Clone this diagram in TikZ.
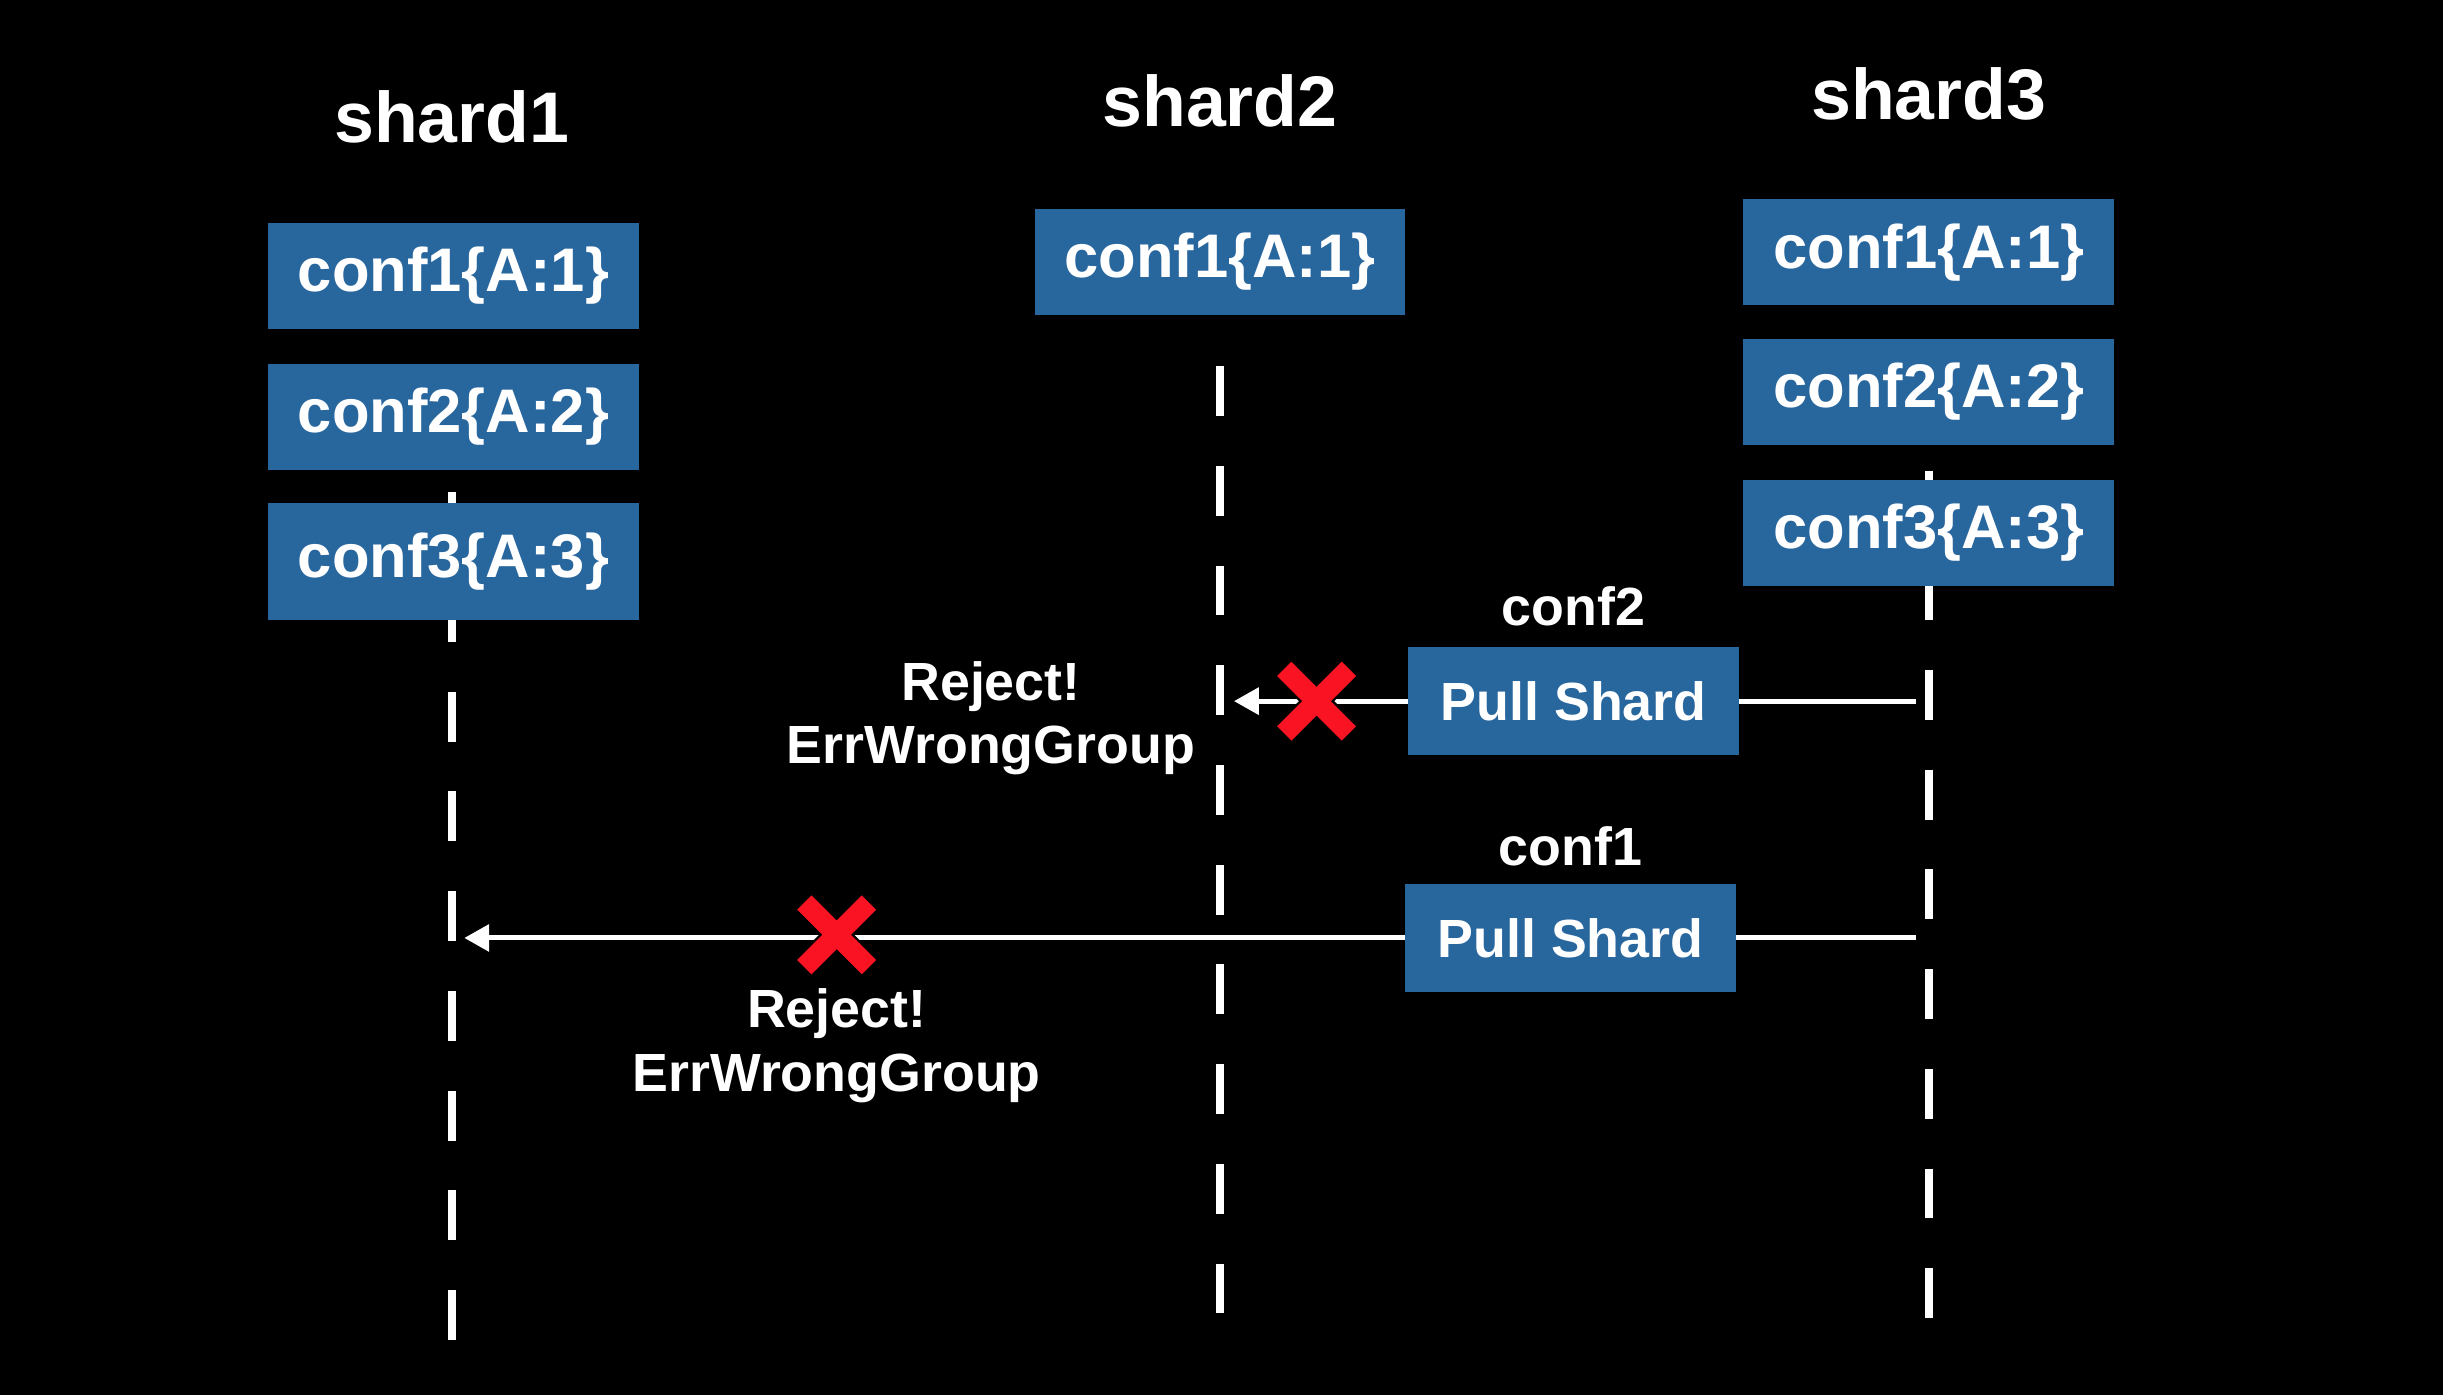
\documentclass[tikz,border=0pt]{standalone}
\usepackage{fontspec}
\setmainfont{Liberation Sans}
\usepackage{tikz}
\usetikzlibrary{arrows.meta}
\usetikzlibrary{positioning}
\usetikzlibrary{shapes}
\usepackage{xcolor}

\definecolor{confblue}{RGB}{40,102,158}
\definecolor{crossred}{RGB}{250,20,35}

\tikzset{
	shardname/.style={text=white, font=\bfseries\fontsize{46}{52}\selectfont},
	conf/.style={fill=confblue, text=white, font=\bfseries\fontsize{39.5}{44}\selectfont,
		minimum width=238pt, minimum height=68pt, inner sep=0pt},
	pull/.style={fill=confblue, text=white, font=\bfseries\fontsize{34.5}{40}\selectfont,
		minimum width=212pt, minimum height=69pt, inner sep=0pt},
	confname/.style={text=white, font=\bfseries\fontsize{34.5}{40}\selectfont, inner sep=0pt},
	errtext/.style={text=white, font=\bfseries\fontsize{34.5}{41}\selectfont, align=center, inner sep=0pt},
	lifeline/.style={white, line width=5pt, dash pattern=on 32pt off 32pt},
	msg/.style={white, line width=3.2pt},
	reject/.style={cross out, draw=black, line width=1.5pt, double=crossred, double distance=13pt,
		minimum size=40pt, inner sep=0pt}
}

\begin{document}
\begin{tikzpicture}[x=1pt, y=-1pt]
	\useasboundingbox (0,0) rectangle (1568,895);
	\fill[black] (-10,-10) rectangle (1578,905);

	% lifelines
	\coordinate (s1top) at (290,316);
	\coordinate (s1bot) at (290,860);
	\coordinate (s2top) at (783,235);
	\coordinate (s2bot) at (783,843);
	\coordinate (s3top) at (1238,302);
	\coordinate (s3bot) at (1238,846);
	\draw[lifeline] (s1top) -- (s1bot);
	\draw[lifeline] (s2top) -- (s2bot);
	\draw[lifeline] (s3top) -- (s3bot);

	\node[shardname] (shard1) at (290,75) {shard1};
	\node[shardname] (shard2) at (783,65) {shard2};
	\node[shardname] (shard3) at (1238,60) {shard3};

	\node[conf] (s1conf1) at (291,177) {conf1\{A:1\}};
	\node[conf] (s1conf2) [below=22pt of s1conf1] {conf2\{A:2\}};
	\node[conf, minimum height=75pt] (s1conf3) [below=21pt of s1conf2] {conf3\{A:3\}};

	\node[conf] (s2conf1) at (783,168) {conf1\{A:1\}};

	\node[conf] (s3conf1) at (1238,162) {conf1\{A:1\}};
	\node[conf] (s3conf2) [below=21pt of s3conf1] {conf2\{A:2\}};
	\node[conf] (s3conf3) [below=22pt of s3conf2] {conf3\{A:3\}};

	% pull conf2 from shard2
	\coordinate (from2) at (1230,450);
	\coordinate (to2) at (792,450);
	\node[pull] (pull2) at (1010,450) {Pull Shard}
	edge[msg] (from2) edge[msg, -{Triangle[length=16pt, width=17pt]}] (to2);
	\node[confname] (conf2) [above=13pt of pull2] {conf2};
	\node[reject] (cross2) at (845,450) {};
	\node[errtext] (err2) at (636,461) {Reject!\\ErrWrongGroup};

	% pull conf1 from shard1
	\coordinate (from1) at (1230,602);
	\coordinate (to1) at (298,602);
	\node[pull] (pull1) at (1008,602) {Pull Shard}
	edge[msg] (from1) edge[msg, -{Triangle[length=16pt, width=17pt]}] (to1);
	\node[confname] (conf1) [above=11pt of pull1] {conf1};
	\node[reject] (cross1) at (537,600) {};
	\node[errtext] (err1) at (537,671) {Reject!\\ErrWrongGroup};
\end{tikzpicture}
\end{document}
